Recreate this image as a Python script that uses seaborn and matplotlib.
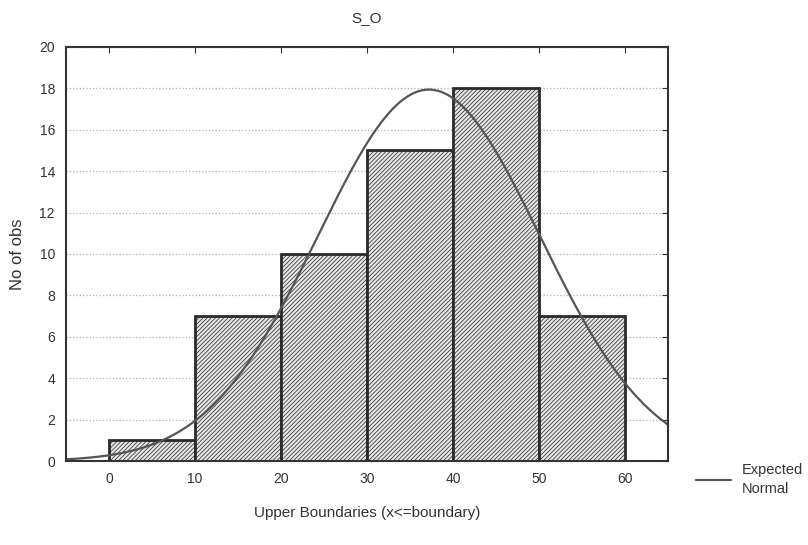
import numpy as np
import pandas as pd
import matplotlib
matplotlib.use('Agg')
import matplotlib.pyplot as plt
import seaborn as sns

# histogram data
bin_edges = [0, 10, 20, 30, 40, 50, 60]
counts = [1, 7, 10, 15, 18, 7]
# expected normal fit
fit_mean = 37.2
fit_sd = 12.9
n_obs = sum(counts)
bin_width = 10

sns.set_style('white')
plt.rcParams['font.family'] = ['Liberation Sans', 'DejaVu Sans']
plt.rcParams['hatch.color'] = '#3a3a3a'
plt.rcParams['hatch.linewidth'] = 0.5

fig = plt.figure(figsize=(8.08, 5.45), dpi=100)
ax = fig.add_axes([0.0817, 0.154, 0.745, 0.760])

mids = [(a + b) / 2 for a, b in zip(bin_edges[:-1], bin_edges[1:])]
df = pd.DataFrame({'mid': mids, 'n': counts})
sns.histplot(data=df, x='mid', weights='n', bins=bin_edges, ax=ax,
             color='#e4e4e4', alpha=1, edgecolor='#2a2a2a', linewidth=2)
for p in ax.patches:
    p.set_hatch('////////')

xs = np.linspace(-5, 65, 300)
ys = n_obs * bin_width / (fit_sd * np.sqrt(2 * np.pi)) * np.exp(-0.5 * ((xs - fit_mean) / fit_sd) ** 2)
sns.lineplot(x=xs, y=ys, ax=ax, color='#555555', linewidth=1.6, label='Expected\nNormal')

ax.set_xlim(-5, 65)
ax.set_ylim(0, 20)
ax.set_xticks(range(0, 61, 10))
ax.set_yticks(range(0, 21, 2))
ax.yaxis.grid(True, color='#b0b0b0', linestyle=':', linewidth=0.9)
ax.set_axisbelow(True)
for s in ax.spines.values():
    s.set_color('#333333')
    s.set_linewidth(1.5)
ax.tick_params(direction='in', top=True, right=True, length=4, labelsize=10, colors='#333333')
ax.tick_params(axis='y', pad=8)
ax.tick_params(axis='x', pad=8)

ax.set_title('S_O', fontsize=11, color='#333333', pad=18)
ax.set_xlabel('Upper Boundaries (x<=boundary)', fontsize=11, color='#333333', labelpad=14)
ax.set_ylabel('No of obs', fontsize=12, color='#333333', labelpad=10)

leg = ax.legend(loc='center left', bbox_to_anchor=(1.025, -0.045), frameon=False,
                fontsize=10.5, handlelength=2.4, handletextpad=0.7)
for t in leg.get_texts():
    t.set_color('#333333')
    t.set_linespacing(1.5)

fig.savefig('out.png', dpi=100)
